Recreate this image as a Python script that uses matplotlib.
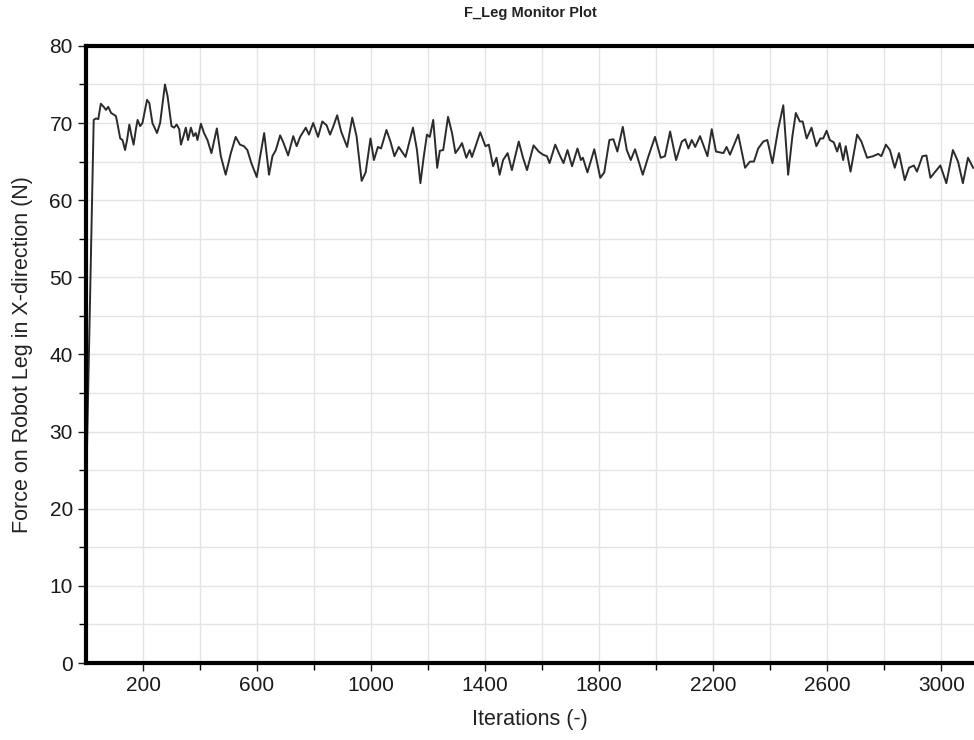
import numpy as np
import matplotlib
matplotlib.use("Agg")
from matplotlib import pyplot as plt
from matplotlib.ticker import MultipleLocator, FixedLocator

plt.rcParams['font.family'] = ['Liberation Sans', 'DejaVu Sans']

# iteration / force values
iterations = [3, 27, 35, 43, 52, 62, 70, 78, 88, 97, 105, 111, 120, 128, 137, 144,
              152, 160, 167, 175, 181, 190, 198, 214, 222, 233, 249, 260, 277, 286,
              300, 309, 318, 327, 333, 342, 350, 358, 368, 377, 385, 391, 403, 414,
              426, 440, 459, 473, 490, 508, 525, 540, 554, 566, 580, 599, 611, 625,
              642, 654, 666, 681, 692, 709, 727, 739, 751, 771, 782, 797, 814, 829,
              844, 856, 868, 881, 895, 916, 934, 949, 967, 981, 998, 1010, 1024,
              1035, 1054, 1068, 1082, 1097, 1121, 1147, 1161, 1173, 1185, 1196,
              1206, 1218, 1232, 1241, 1253, 1270, 1284, 1296, 1311, 1319, 1334,
              1346, 1354, 1383, 1401, 1413, 1428, 1440, 1451, 1463, 1479, 1494,
              1518, 1533, 1547, 1570, 1588, 1603, 1617, 1626, 1646, 1661, 1675,
              1689, 1705, 1724, 1736, 1743, 1759, 1783, 1804, 1818, 1836, 1850,
              1864, 1883, 1897, 1911, 1926, 1953, 1973, 1996, 2016, 2031, 2049,
              2070, 2090, 2102, 2113, 2125, 2137, 2154, 2180, 2195, 2210, 2224,
              2236, 2247, 2259, 2288, 2312, 2329, 2343, 2358, 2376, 2390, 2408,
              2428, 2446, 2463, 2478, 2490, 2504, 2514, 2528, 2545, 2562, 2576,
              2586, 2598, 2609, 2623, 2635, 2644, 2656, 2665, 2682, 2705, 2720,
              2740, 2761, 2779, 2790, 2806, 2820, 2837, 2852, 2872, 2887, 2904,
              2915, 2934, 2948, 2962, 2977, 2997, 3018, 3041, 3059, 3076, 3094, 3112]
force = [27.0, 70.4, 70.6, 70.5, 72.5, 72.1, 71.7, 72.1, 71.3, 71.1, 70.9, 69.8,
         68.0, 67.8, 66.5, 67.8, 69.8, 68.3, 67.2, 69.2, 70.4, 69.6, 70.0, 73.0,
         72.6, 70.0, 68.7, 70.0, 75.0, 73.5, 69.6, 69.4, 69.8, 69.2, 67.2, 68.3,
         69.4, 67.8, 69.4, 68.3, 68.7, 67.8, 69.9, 68.7, 67.8, 66.1, 69.3, 65.7,
         63.3, 66.1, 68.2, 67.2, 67.0, 66.5, 64.8, 63.0, 65.7, 68.7, 63.3, 65.7,
         66.5, 68.4, 67.5, 65.8, 68.3, 67.0, 68.2, 69.4, 68.5, 70.0, 68.2, 70.2,
         69.7, 68.5, 69.6, 71.0, 68.9, 66.9, 70.7, 68.3, 62.5, 63.6, 68.0, 65.2,
         66.9, 66.7, 69.1, 67.6, 65.7, 66.9, 65.6, 69.4, 66.5, 62.2, 65.7, 68.5,
         68.2, 70.4, 64.2, 66.4, 66.5, 70.8, 68.7, 66.1, 66.9, 67.4, 65.5, 66.5,
         65.6, 68.8, 67.0, 67.2, 64.4, 65.5, 63.3, 65.2, 66.1, 63.9, 67.6, 65.5,
         63.9, 67.1, 66.3, 65.9, 65.7, 64.8, 67.2, 65.9, 64.8, 66.5, 64.4, 66.7,
         65.2, 65.5, 63.6, 66.6, 62.9, 63.6, 67.8, 67.9, 66.3, 69.5, 66.5, 65.2,
         66.6, 63.3, 65.7, 68.2, 65.5, 65.7, 68.9, 65.2, 67.6, 67.9, 66.7, 67.8,
         66.9, 68.3, 65.7, 69.2, 66.3, 66.2, 66.1, 66.9, 65.9, 68.5, 64.2, 65.0,
         65.0, 66.7, 67.6, 67.8, 64.8, 69.2, 72.3, 63.3, 68.3, 71.3, 70.2, 70.2,
         68.0, 69.4, 67.0, 68.0, 68.0, 69.0, 67.8, 67.5, 66.3, 67.4, 65.2, 67.0,
         63.7, 68.5, 67.6, 65.5, 65.7, 66.0, 65.7, 67.2, 66.5, 64.2, 66.1, 62.6,
         64.2, 64.5, 63.7, 65.7, 65.8, 62.9, 63.6, 64.5, 62.2, 66.5, 65.0, 62.2,
         65.5, 64.2]

x_labels = [200, 600, 1000, 1400, 1800, 2200, 2600, 3000]
x_minor = [400, 800, 1200, 1600, 2000, 2400, 2800]

fig = plt.figure(figsize=(9.74, 7.40), dpi=100)
ax = fig.add_axes([0.0883, 0.104, 0.9117, 0.834])

ax.plot(iterations, force, color='#2b2b2b', linewidth=1.4,
        solid_joinstyle='round')

ax.set_xlim(0, 3115)
ax.set_ylim(0, 80)

ax.xaxis.set_major_locator(FixedLocator(x_labels))
ax.xaxis.set_minor_locator(FixedLocator(x_minor))
ax.yaxis.set_major_locator(MultipleLocator(10))
ax.yaxis.set_minor_locator(MultipleLocator(5))

ax.grid(True, which='both', color='#e4e4e4', linewidth=1.0)
ax.set_axisbelow(True)

ax.tick_params(axis='both', which='major', direction='out', length=6, width=1,
               labelsize=15, colors='#1a1a1a')
ax.tick_params(axis='both', which='minor', direction='out', length=5, width=1)

for side in ['left', 'bottom', 'top']:
    ax.spines[side].set_linewidth(3)
    ax.spines[side].set_color('black')
ax.spines['right'].set_visible(False)

ax.set_title('F_Leg Monitor Plot', fontsize=10.5, fontweight='bold', pad=21,
             color='#222222')
ax.set_xlabel('Iterations (-)', fontsize=15.5, labelpad=10, color='#222222')
ax.set_ylabel('Force on Robot Leg in X-direction (N)', fontsize=15.5,
              labelpad=12, color='#222222')

plt.savefig('out.png', dpi=100)
